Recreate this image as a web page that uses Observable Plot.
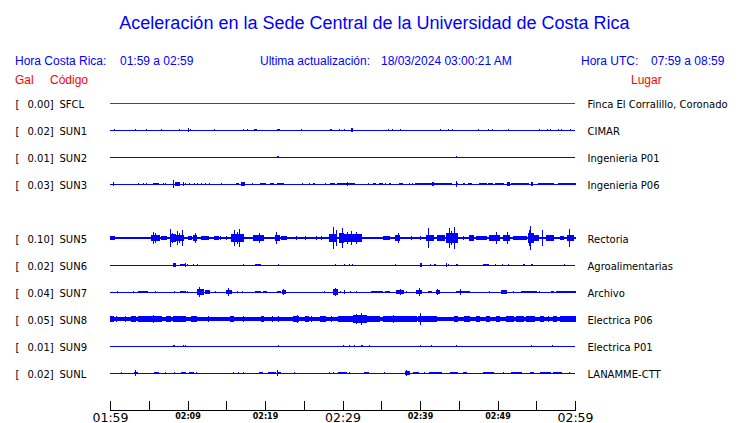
<!DOCTYPE html>
<html><head><meta charset="utf-8">
<script src="https://cdn.jsdelivr.net/npm/d3@7"></script>
<script src="https://cdn.jsdelivr.net/npm/@observablehq/plot@0.6"></script>
<style>
body{margin:0;background:#fff;}
#wrap{position:relative;width:740px;height:423px;overflow:hidden;background:#fff;}
#head{position:relative;width:740px;height:90px;font-family:"Liberation Sans",Arial,sans-serif;}
#head div{position:absolute;white-space:nowrap;}
#head .t{font-size:18px;line-height:20px;color:#0000ff;top:13px;left:0;width:749px;text-align:center;}
#head .s{font-size:12px;line-height:14px;color:#0000ff;top:54px;}
#head .r{font-size:12px;line-height:14px;color:#ff0000;top:73px;}
#plot svg *{shape-rendering:crispEdges;}
</style></head>
<body>
<div id="wrap"><div id="head"></div><div id="plot"></div></div>
<script>
// ---- texts ----
const title = "Aceleración en la Sede Central de la Universidad de Costa Rica";
const headerLabels = ["Hora Costa Rica:", "01:59 a 02:59", "Ultima actualización:", "18/03/2024 03:00:21 AM", "Hora UTC:", "07:59 a 08:59"];
const columnLabels = ["Gal", "Código", "Lugar"];

// ---- stations ----
const codes = ["SFCL", "SUN1", "SUN2", "SUN3", "SUN5", "SUN6", "SUN7", "SUN8", "SUN9", "SUNL"];
const places = ["Finca El Corralillo, Coronado", "CIMAR", "Ingenieria P01", "Ingenieria P06", "Rectoria",
  "Agroalimentarias", "Archivo", "Electrica P06", "Electrica P01", "LANAMME-CTT"];
const peakGal = [0.00, 0.02, 0.01, 0.03, 0.10, 0.02, 0.04, 0.05, 0.01, 0.02];

// ---- time axis (minutes after 01:59) ----
const tickMinutes = [0, 5, 10, 15, 20, 25, 30, 35, 40, 45, 50, 55, 60];
const majorTicks = [0, 30, 60];
const majorLabels = ["01:59", "02:29", "02:59"];
const minorTicks = [10, 20, 40, 50];
const minorLabels = ["02:09", "02:19", "02:39", "02:49"];

// ---- waveform envelopes: [start min, end min, half amplitude (gal)] ----
const sfcl = [];
const sun1 = [[0.56,0.56,0.008],[3.27,3.27,0.008],[4.69,4.69,0.005],[6.62,6.62,0.005],[8.95,8.95,0.008],[10.19,10.19,0.02],[10.45,10.45,0.01],[13.46,13.46,0.008],[17.2,17.2,0.008],[17.72,17.72,0.008],[18.67,18.9,0.008],[21.59,21.85,0.01],[24.69,24.69,0.008],[28.47,28.6,0.008],[29.59,29.59,0.006],[30.23,30.23,0.008],[31.18,31.3,0.017],[35.95,35.95,0.008],[36.43,36.43,0.008],[37.46,37.46,0.008],[42.62,42.62,0.008],[43.65,43.65,0.008],[44.17,44.17,0.008],[47.52,47.52,0.008],[48.86,48.86,0.008],[49.33,49.33,0.006],[51.39,51.39,0.008],[55.39,55.39,0.008],[56.43,56.43,0.006],[56.9,56.9,0.008],[57.85,57.85,0.008],[58.28,58.28,0.008],[59.44,59.44,0.008]];
const sun2 = [[21.6,21.8,0.01],[44.68,44.68,0.008]];
const sun3 = [[0.43,0.43,0.013],[3.66,3.66,0.008],[4.3,4.3,0.005],[4.69,4.69,0.008],[5.6,6.1,0.011],[6.25,6.25,0.008],[6.88,6.88,0.008],[7.2,7.2,0.011],[8.17,8.17,0.03],[8.5,8.99,0.013],[9.42,9.5,0.017],[9.8,9.8,0.008],[10.32,10.32,0.008],[10.84,10.9,0.011],[11.3,11.3,0.008],[11.78,11.78,0.008],[12.3,12.3,0.008],[12.9,12.9,0.008],[14.45,14.45,0.008],[16.3,16.6,0.011],[17.0,17.3,0.017],[18.45,18.45,0.008],[19.4,19.4,0.008],[19.6,20.1,0.011],[20.7,21.1,0.011],[21.55,22.4,0.011],[24.9,24.9,0.008],[25.8,25.8,0.008],[26.3,26.4,0.011],[27.8,27.8,0.008],[28.5,29.0,0.011],[29.4,31.0,0.011],[30.6,30.7,0.017],[31.2,31.5,0.008],[33.3,33.3,0.008],[34.0,34.3,0.011],[34.75,35.2,0.011],[35.5,35.5,0.008],[36.0,36.2,0.008],[37.3,37.7,0.011],[38.7,38.7,0.008],[39.05,39.05,0.008],[39.4,41.6,0.011],[41.6,41.7,0.017],[41.7,44.1,0.011],[44.65,44.65,0.025],[44.9,44.9,0.011],[45.6,45.8,0.008],[46.2,46.7,0.011],[47.7,48.6,0.011],[48.9,49.3,0.011],[49.7,50.75,0.011],[51.3,51.6,0.017],[51.8,54.0,0.011],[54.4,54.5,0.017],[55.3,57.2,0.011],[57.85,60,0.011]];
const sun5 = [[0,60,0.012],[0,0.6,0.017],[5.38,6.45,0.021],[5.6,5.6,0.05],[5.85,5.85,0.04],[6.67,7.3,0.017],[7.87,7.87,0.075],[7.96,8.4,0.033],[8.1,8.1,0.045],[8.6,9.5,0.028],[8.73,8.73,0.058],[9.03,9.03,0.045],[9.33,9.33,0.063],[10.1,10.5,0.017],[10.8,11.2,0.025],[11.0,11.0,0.042],[11.8,12.7,0.015],[13.5,14.0,0.017],[14.3,14.3,0.017],[15.05,15.05,0.017],[15.7,17.2,0.03],[16.1,16.1,0.065],[16.4,16.4,0.05],[16.77,16.77,0.073],[18.5,19.8,0.022],[19.35,19.35,0.042],[21.3,21.9,0.028],[21.5,21.5,0.05],[22.1,22.8,0.017],[24.1,24.1,0.013],[25.2,25.2,0.013],[26.7,26.7,0.013],[27.3,27.3,0.013],[28.3,29.2,0.035],[28.9,28.9,0.09],[29.2,29.2,0.067],[29.6,30.1,0.04],[30.0,30.0,0.08],[30.1,32.4,0.035],[30.6,30.6,0.05],[31.2,31.2,0.056],[31.8,31.8,0.05],[35.3,36.0,0.017],[36.8,37.4,0.021],[37.2,37.2,0.042],[38.9,38.9,0.013],[40.1,40.1,0.017],[40.9,41.7,0.028],[41.15,41.15,0.083],[42.2,43.2,0.021],[43.45,44.9,0.045],[43.8,43.8,0.08],[44.1,44.1,0.06],[44.5,44.5,0.092],[45.6,45.6,0.013],[46.4,46.9,0.021],[47.3,48.6,0.017],[49.0,50.3,0.028],[49.9,49.9,0.05],[50.8,51.6,0.028],[51.3,51.3,0.05],[52.0,53.8,0.017],[53.96,54.6,0.045],[54.27,54.27,0.1],[54.1,54.1,0.07],[54.7,55.3,0.028],[55.8,55.8,0.067],[56.3,57.2,0.021],[58.1,58.5,0.017],[59.0,59.8,0.028],[59.3,59.3,0.075]];
const sun6 = [[8.17,8.4,0.017],[9.1,9.7,0.011],[9.8,9.8,0.017],[10.0,10.0,0.006],[10.75,10.75,0.008],[11.3,11.3,0.008],[17.2,17.2,0.008],[18.8,19.4,0.011],[21.7,21.7,0.008],[29.1,29.1,0.005],[30.2,30.3,0.008],[30.87,30.87,0.008],[31.26,31.26,0.008],[36.8,36.9,0.011],[40.0,40.2,0.017],[41.4,41.4,0.008],[41.9,42.0,0.011],[43.4,43.4,0.017],[43.65,43.65,0.008],[44.7,44.8,0.011],[48.2,48.8,0.011],[49.68,49.68,0.008],[50.67,50.67,0.011],[51.4,51.4,0.008],[53.4,53.5,0.011],[54.4,54.5,0.011],[58.6,58.6,0.011]];
const sun7 = [[0.95,0.95,0.008],[3.0,3.0,0.005],[3.66,4.86,0.011],[5.9,5.9,0.008],[8.26,8.26,0.008],[9.1,9.7,0.011],[9.98,9.98,0.008],[11.3,12.0,0.021],[11.6,11.6,0.042],[12.3,12.9,0.013],[13.6,13.6,0.008],[15.05,15.7,0.017],[15.35,15.35,0.033],[16.4,16.4,0.008],[17.1,17.1,0.008],[18.8,19.4,0.011],[19.8,20.2,0.011],[21.6,22.0,0.011],[22.2,22.7,0.015],[22.45,22.45,0.025],[27.7,27.7,0.005],[28.8,29.3,0.021],[29.1,29.1,0.033],[29.8,29.8,0.008],[30.2,30.2,0.013],[30.97,30.97,0.008],[31.8,31.8,0.008],[33.8,35.1,0.011],[35.6,36.0,0.011],[37.0,37.85,0.013],[37.5,37.5,0.021],[38.3,38.3,0.008],[39.6,40.2,0.017],[39.9,39.9,0.033],[41.1,41.5,0.008],[42.1,42.5,0.017],[42.3,42.3,0.021],[44.7,46.45,0.011],[45.2,45.2,0.025],[49.03,49.03,0.005],[50.54,51.18,0.015],[52.04,52.04,0.008],[53.12,55.05,0.011],[55.4,55.4,0.008],[56.99,57.2,0.011],[57.55,60,0.011]];
const sun8 = [[0,60,0.014],[0,0.4,0.025],[0.86,0.86,0.028],[1.29,1.72,0.019],[1.94,1.94,0.022],[2.8,3.23,0.022],[3.66,4.3,0.025],[4.3,6.7,0.022],[5.6,5.6,0.031],[7.3,7.75,0.025],[8.17,9.25,0.022],[9.37,9.68,0.029],[10.5,11.2,0.025],[12.7,12.7,0.022],[14.0,14.0,0.019],[15.5,15.9,0.025],[17.2,17.2,0.022],[19.6,19.8,0.025],[20.4,20.4,0.019],[21.0,21.0,0.022],[21.7,21.7,0.025],[23.65,24.3,0.022],[24.2,24.2,0.031],[25.2,25.6,0.022],[26.0,26.0,0.022],[27.1,27.8,0.022],[28.6,28.6,0.022],[29.5,30.3,0.025],[29.7,34.8,0.025],[31.4,33.1,0.033],[31.8,31.8,0.042],[32.5,32.5,0.05],[35.3,38.3,0.022],[36.6,36.6,0.033],[38.3,39.6,0.022],[40.0,40.0,0.05],[39.8,42.15,0.025],[42.6,43.4,0.019],[44.5,44.9,0.028],[45.8,46.45,0.022],[47.3,47.7,0.025],[48.6,49.0,0.025],[49.9,50.3,0.022],[51.2,52.0,0.022],[52.5,53.3,0.022],[53.8,54.8,0.025],[55.5,55.9,0.022],[56.6,56.6,0.028],[57.2,57.6,0.022],[58.1,60,0.025]];
const sun9 = [[8.2,8.3,0.011],[9.5,9.5,0.005],[9.8,9.8,0.005],[21.7,21.7,0.011],[30.1,30.1,0.005],[30.9,30.9,0.008],[31.5,31.5,0.005],[32.4,32.6,0.011],[33.5,33.5,0.008],[40.0,40.0,0.011],[41.5,41.5,0.005],[44.7,44.7,0.011],[54.4,54.4,0.011],[57.1,57.1,0.005]];
const sunl = [[1.42,1.42,0.008],[3.14,3.53,0.011],[3.3,3.3,0.021],[5.8,6.2,0.011],[7.1,7.1,0.008],[8.26,8.26,0.011],[9.25,9.7,0.011],[10.2,10.8,0.011],[11.2,11.2,0.008],[15.9,15.9,0.008],[16.6,16.6,0.005],[17.2,17.2,0.008],[19.3,19.65,0.011],[20.4,21.3,0.011],[21.6,21.6,0.021],[21.7,22.0,0.011],[23.8,23.8,0.005],[28.3,28.3,0.005],[28.9,28.9,0.008],[29.5,30.5,0.011],[30.9,30.9,0.008],[32.8,33.4,0.011],[35.4,35.4,0.005],[38.1,38.7,0.013],[38.3,38.3,0.021],[39.1,39.8,0.008],[40.6,40.6,0.008],[41.2,42.8,0.011],[43.9,44.9,0.011],[45.6,46.0,0.011],[48.2,49.5,0.011],[50.75,50.75,0.008],[51.8,53.1,0.011],[54.2,54.6,0.011],[55.5,56.8,0.011],[57.2,58.3,0.008],[59.35,59.35,0.011]];
const traces = [sfcl, sun1, sun2, sun3, sun5, sun6, sun7, sun8, sun9, sunl];

// ---- header (HTML) ----
const head = document.getElementById("head");
function addDiv(cls, text, left) {
  const d = document.createElement("div");
  d.className = cls; d.textContent = text;
  if (left != null) d.style.left = left + "px";
  head.appendChild(d);
}
addDiv("t", title);
const headerX = [15, 120, 260, 381, 581, 651];
headerLabels.forEach((s, i) => addDiv("s", s, headerX[i]));
const columnX = [15, 50, 631];
columnLabels.forEach((s, i) => addDiv("r", s, columnX[i]));

// ---- layout helpers ----
const galPerRow = 0.225;            // vertical distance between traces expressed in gal
const rows = codes.map((c, i) => ({
  code: c, place: places[i],
  value: peakGal[i].toFixed(2) + "]",
  slot: i < 4 ? i : i + 1,           // SUN4 slot is empty
  color: c === "SFCL" ? "#ff0000" : "#0000ff"
}));
const events = traces.flatMap((ev, i) => ev.map(([t0, t1, a]) => ({
  t0, t1, a, slot: rows[i].slot, color: rows[i].color
})));

const H = 333, axisBottom = 13;
const chart = Plot.plot({
  width: 740, height: H,
  marginLeft: 110, marginRight: 165, marginTop: 0, marginBottom: axisBottom,
  x: {domain: [0, 60], axis: null},
  y: {domain: [0, 10], range: [13, 283], axis: null},
  style: {fontFamily: "DejaVu Sans", fontSize: "10px", background: "white", color: "black", overflow: "visible"},
  marks: [
    Plot.ruleY(rows, {y: "slot", x1: 0, x2: 60, stroke: "color", strokeWidth: 1}),
    Plot.rect(events, {
      x1: "t0", x2: "t1",
      y1: d => d.slot - d.a / galPerRow, y2: d => d.slot + d.a / galPerRow,
      fill: "color", insetLeft: -0.5, insetRight: -0.5
    }),
    Plot.text(rows, {y: "slot", text: () => "[", frameAnchor: "left", dx: -95, textAnchor: "start", lineAnchor: "bottom", dy: 4, fill: "black"}),
    Plot.text(rows, {y: "slot", text: "value", frameAnchor: "left", dx: -83, textAnchor: "start", lineAnchor: "bottom", dy: 4, fill: "black"}),
    Plot.text(rows, {y: "slot", text: "code", frameAnchor: "left", dx: -51, textAnchor: "start", lineAnchor: "bottom", dy: 4, fill: "black"}),
    Plot.text(rows, {y: "slot", text: "place", frameAnchor: "right", dx: 12, textAnchor: "start", lineAnchor: "bottom", dy: 4, fill: "black"}),
    Plot.frame({anchor: "bottom", stroke: "black"}),
    Plot.ruleX(tickMinutes, {x: d => d, insetTop: H - axisBottom - 9, stroke: "black"}),
    Plot.text(majorTicks, {x: d => d, text: (d, i) => majorLabels[i], frameAnchor: "bottom", lineAnchor: "bottom", dy: 11, fontSize: 12.5, fill: "black"}),
    Plot.text(minorTicks, {x: d => d, text: (d, i) => minorLabels[i], frameAnchor: "bottom", lineAnchor: "bottom", dy: 8, fontSize: 8, fontWeight: "bold", fill: "black"})
  ]
});
document.getElementById("plot").appendChild(chart);
</script>
</body></html>
